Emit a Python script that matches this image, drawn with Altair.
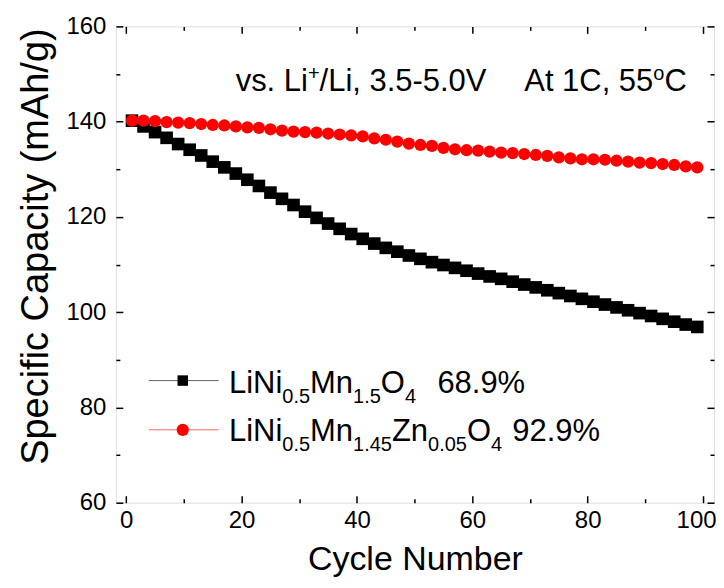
import altair as alt
import pandas as pd

# ---------------- data ----------------
cycles = list(range(1, 100, 2))
cap_undoped = [140.2, 139.0, 137.8, 136.6, 135.3, 134.1, 132.9, 131.6, 130.4, 129.1,
               127.8, 126.5, 125.1, 123.8, 122.5, 121.1, 119.8, 118.6, 117.5, 116.4,
               115.4, 114.4, 113.5, 112.7, 111.9, 111.2, 110.5, 109.9, 109.3, 108.7,
               108.1, 107.5, 107.0, 106.4, 105.8, 105.2, 104.6, 104.0, 103.4, 102.8,
               102.2, 101.6, 101.0, 100.4, 99.8, 99.2, 98.6, 98.0, 97.4, 96.9]
cap_zn = [140.2, 140.2, 140.1, 139.9, 139.8, 139.7, 139.5, 139.3, 139.2, 139.0,
          138.8, 138.7, 138.4, 138.1, 137.9, 137.8, 137.7, 137.5, 137.3, 137.1,
          136.9, 136.5, 136.2, 135.8, 135.4, 135.1, 134.9, 134.5, 134.2, 134.0,
          133.9, 133.7, 133.5, 133.4, 133.2, 133.0, 132.8, 132.5, 132.3, 132.1,
          132.1, 132.0, 131.8, 131.6, 131.4, 131.3, 131.1, 130.9, 130.6, 130.4]
series_names = ["LiNi0.5Mn1.5O4", "LiNi0.5Mn1.45Zn0.05O4"]

x_major = [0, 20, 40, 60, 80, 100]
x_minor = [10, 30, 50, 70, 90]
y_major = [60, 80, 100, 120, 140, 160]
y_minor = [70, 90, 110, 130, 150]

# legend labels as (text, is_subscript) segments
legend_segments = [
    [("LiNi", 0), ("0.5", 1), ("Mn", 0), ("1.5", 1), ("O", 0), ("4", 1)],
    [("LiNi", 0), ("0.5", 1), ("Mn", 0), ("1.45", 1), ("Zn", 0), ("0.05", 1), ("O", 0), ("4", 1)],
]
legend_pct = ["68.9%", "92.9%"]
# annotation as (text, is_superscript) segments
annot_left = [("vs. Li", 0), ("+", 1), ("/Li, 3.5-5.0V", 0)]
annot_right = [("At 1C, 55", 0), ("o", 1), ("C", 0)]

# ---------------- layout ----------------
W, H = 599, 477
FONT = "Liberation Sans, Arial, sans-serif"
F_MAIN, F_SMALL = 31, 20

# Arial / Liberation Sans advance widths (per 1000 em)
AW = {' ': 278, '%': 889, '+': 584, ',': 278, '-': 333, '.': 278, '/': 278,
      'A': 667, 'C': 722, 'L': 556, 'M': 833, 'N': 722, 'O': 778, 'V': 667, 'Z': 611,
      'i': 222, 'n': 556, 's': 500, 'v': 500, 't': 278, 'o': 556}
for d in "0123456789":
    AW[d] = 556


def tw(s, size):
    return sum(AW.get(c, 556) for c in s) * size / 1000.0


df = pd.DataFrame({
    "cycle": cycles * 2,
    "cap": cap_undoped + cap_zn,
    "series": [series_names[0]] * len(cycles) + [series_names[1]] * len(cycles),
})

xs = alt.Scale(domain=[-1.8, 101.9], nice=False, zero=False)
ys = alt.Scale(domain=[60, 160], nice=False, zero=False)


def ax(orient, values, size, labels=False, title=None, **kw):
    args = dict(orient=orient, values=values, tickSize=size, offset=-size,
                domain=False, grid=False, labels=labels, tickColor="black",
                tickWidth=1.5, ticks=True)
    args["title"] = title
    args.update(kw)
    return alt.Axis(**args)


base = alt.Chart(df)

x_main_axis = ax("bottom", x_major, 7, labels=True, title="Cycle Number",
                 labelFontSize=24, labelFont=FONT, labelColor="black", labelPadding=6,
                 labelOffset=alt.ExprRef(expr="datum.value == 100 ? -7 : 0"),
                 titleFontSize=34, titleFont=FONT, titleFontWeight="normal",
                 titleColor="black", titlePadding=10)
y_main_axis = ax("left", y_major, 7, labels=True, title="Specific Capacity (mAh/g)",
                 labelFontSize=24, labelFont=FONT, labelColor="black", labelPadding=10,
                 titleFontSize=38, titleFont=FONT, titleFontWeight="normal",
                 titleColor="black", titlePadding=10, titleY=220)

black_line = base.transform_filter(alt.datum.series == series_names[0]).mark_line(
    color="black", strokeWidth=1).encode(
    x=alt.X("cycle:Q", scale=xs, axis=x_main_axis),
    y=alt.Y("cap:Q", scale=ys, axis=y_main_axis))
black_pts = base.transform_filter(alt.datum.series == series_names[0]).mark_point(
    shape="square", filled=True, size=160, color="black", opacity=1).encode(
    x=alt.X("cycle:Q", scale=xs, axis=None),
    y=alt.Y("cap:Q", scale=ys, axis=None))
red_line = base.transform_filter(alt.datum.series == series_names[1]).mark_line(
    color="red", strokeWidth=1).encode(
    x=alt.X("cycle:Q", scale=xs, axis=None),
    y=alt.Y("cap:Q", scale=ys, axis=None))
red_pts = base.transform_filter(alt.datum.series == series_names[1]).mark_point(
    shape="circle", filled=True, size=150, color="red", opacity=1).encode(
    x=alt.X("cycle:Q", scale=xs, axis=None),
    y=alt.Y("cap:Q", scale=ys, axis=None))


def axis_layer(xa, ya):
    return base.mark_point(opacity=0).encode(
        x=alt.X("cycle:Q", scale=xs, axis=xa),
        y=alt.Y("cap:Q", scale=ys, axis=ya))


ax_minor_bl = axis_layer(ax("bottom", x_minor, 4), ax("left", y_minor, 4))
ax_major_tr = axis_layer(ax("top", x_major, 7), ax("right", y_major, 7))
ax_minor_tr = axis_layer(ax("top", x_minor, 4), ax("right", y_minor, 4))

one = alt.Data(values=[{}])


def txt(s, x, y, size):
    return alt.Chart(one).mark_text(
        text=s, align="left", baseline="alphabetic", fontSize=size, font=FONT,
        color="black").encode(x=alt.value(x), y=alt.value(y))


def rich(segs, x0, y0, shift):
    layers = []
    x = x0
    for s, small in segs:
        size = F_SMALL if small else F_MAIN
        layers.append(txt(s, x, y0 + (shift if small else 0), size))
        x += tw(s, size)
    return layers


text_layers = []
# annotation
text_layers += rich(annot_left, 120, 65, -11)
text_layers += rich(annot_right, 409, 65, -11)

# legend
leg_rows = [(354.7, 367.3, "black", "square", 110), (404.0, 415.7, "red", "circle", 150)]
pct_x = [322, 397]
legend_layers = []
for i, (ly, by, col, shp, sz) in enumerate(leg_rows):
    legend_layers.append(
        alt.Chart(one).mark_rule(color=col, strokeWidth=1, opacity=0.6).encode(
            x=alt.value(33), x2=alt.value(103), y=alt.value(ly)))
    legend_layers.append(
        alt.Chart(one).mark_point(shape=shp, filled=True, size=sz, color=col, opacity=1).encode(
            x=alt.value(67), y=alt.value(ly)))
    legend_layers += rich(legend_segments[i], 113.3, by, 10)
    legend_layers.append(txt(legend_pct[i], pct_x[i], by, F_MAIN))

chart = alt.layer(
    ax_minor_bl, ax_major_tr, ax_minor_tr,
    black_line, black_pts, red_line, red_pts,
    *legend_layers, *text_layers
).resolve_axis(x="independent", y="independent").properties(
    width=W, height=H,
    autosize=alt.AutoSizeParams(type="none"),
    padding={"left": 108, "top": 18, "right": 2, "bottom": 75},
).configure_view(stroke="black", strokeWidth=2).configure(background="white")

chart.save("out.html", embed_options={"renderer": "svg", "actions": False})
